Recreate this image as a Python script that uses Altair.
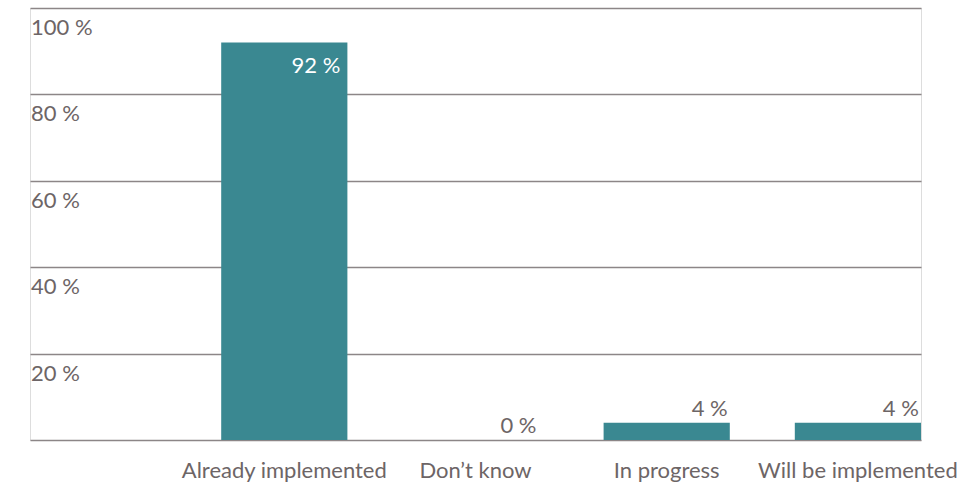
import altair as alt
import pandas as pd

categories = ["Already implemented", "Don\u2019t know", "In progress", "Will be implemented"]
values = [92, 0, 4, 4]
tick_values = [0, 20, 40, 60, 80, 100]
tick_labels = ["20 %", "40 %", "60 %", "80 %", "100 %"]
tick_label_values = [20, 40, 60, 80, 100]

FONT = "Lato"
FS = 22
TXT = "#6d6566"
BAR = "#3a8891"
GRID = "#8c8687"

df = pd.DataFrame({"cat": categories, "val": values})
df["lab"] = [f"{v} %" for v in values]
ticks = pd.DataFrame({"v": tick_label_values, "lab": tick_labels})

xscale = alt.Scale(domain=categories, paddingInner=0.34, paddingOuter=0.5, align=1)
yscale = alt.Scale(domain=[0, 100], nice=False)

base = alt.Chart(df)

bars = base.mark_bar(color=BAR).encode(
    x=alt.X("cat:N", sort=categories, scale=xscale, title=None,
            axis=alt.Axis(labelAngle=0, domain=False, ticks=False, labelFontSize=FS,
                          labelFont=FONT, labelColor=TXT, labelPadding=20, grid=False,
                          labelLimit=400, labelOverlap=False)),
    y=alt.Y("val:Q", scale=yscale, title=None,
            axis=alt.Axis(values=tick_values, labels=False, ticks=False, domain=False,
                          grid=True, gridColor=GRID, gridWidth=1.5, gridOpacity=1)),
)

out_labels = base.transform_filter("datum.val < 50").mark_text(
    align="right", baseline="alphabetic", dx=61, dy=-7, fontSize=FS, font=FONT, color=TXT
).encode(x=alt.X("cat:N", sort=categories, scale=xscale), y=alt.Y("val:Q", scale=yscale), text="lab:N")

in_labels = base.transform_filter("datum.val >= 50").mark_text(
    align="right", baseline="alphabetic", dx=56, dy=30, fontSize=FS, font=FONT, color="white"
).encode(x=alt.X("cat:N", sort=categories, scale=xscale), y=alt.Y("val:Q", scale=yscale), text="lab:N")

ylabels = alt.Chart(ticks).mark_text(
    align="left", baseline="alphabetic", dy=27, fontSize=FS, font=FONT, color=TXT
).encode(x=alt.value(1), y=alt.Y("v:Q", scale=yscale), text="lab:N")

chart = alt.layer(bars, out_labels, in_labels, ylabels).properties(
    width=891, height=432,
    autosize=alt.AutoSizeParams(type="none"),
    padding={"left": 30, "top": 8, "right": 58, "bottom": 46},
).configure_view(strokeWidth=0).configure(background="white")

chart.save("out.html", embed_options={"renderer": "svg", "actions": False})
